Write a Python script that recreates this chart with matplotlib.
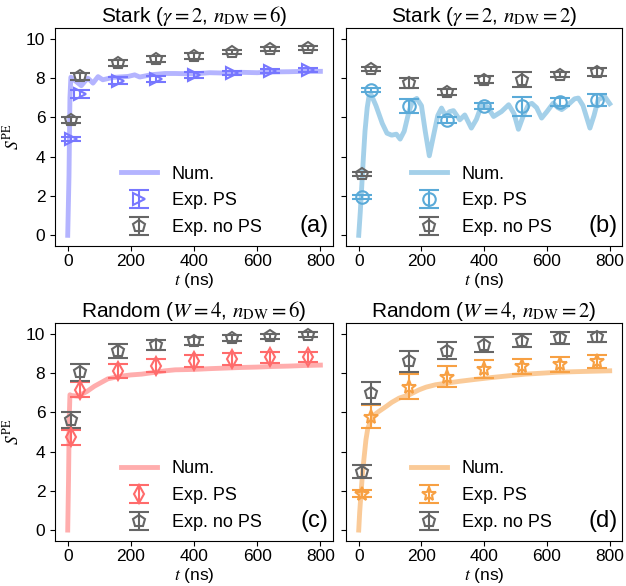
# S^PE growth: Stark vs random disorder, numerics and experiment

import matplotlib
matplotlib.use('Agg')
import matplotlib.pyplot as plt

plt.rcParams['font.family'] = ['Liberation Sans', 'DejaVu Sans']
plt.rcParams['mathtext.fontset'] = 'stix'

t_exp = [10, 40, 160, 280, 400, 520, 640, 760]

# (a) Stark, nDW = 6
t_num_a = [0, 4, 7, 10, 14, 25, 43, 55, 64, 80, 96, 111, 143, 191, 212, 228, 266, 308,
           340, 400, 450, 500, 550, 600, 650, 700, 750, 800]
s_num_a = [0, 3.0, 7.0, 8.05, 8.0, 7.85, 7.62, 7.85, 8.0, 7.75, 8.08, 7.92, 8.04, 8.09,
           8.17, 8.06, 8.18, 8.24, 8.24, 8.22, 8.28, 8.26, 8.30, 8.28, 8.32, 8.33, 8.35, 8.35]
ps_a = [4.9, 7.19, 7.87, 7.98, 8.15, 8.27, 8.38, 8.43]
ps_err_a = [0.1, 0.2, 0.18, 0.15, 0.15, 0.12, 0.1, 0.1]
nops_a = [5.88, 8.1, 8.78, 8.98, 9.15, 9.34, 9.49, 9.54]
nops_err_a = [0.15, 0.18, 0.15, 0.15, 0.15, 0.12, 0.1, 0.1]

# (b) Stark, nDW = 2
t_num_b = [0, 5, 10, 15, 20, 27, 33, 40, 55, 75, 90, 105, 120, 132, 145, 160, 172, 185,
           200, 212, 225, 240, 252, 264, 276, 290, 302, 322, 338, 359, 375, 391, 410,
           430, 455, 478, 495, 509, 525, 541, 552, 567, 583, 600, 620, 635, 647, 660,
           673, 688, 700, 715, 737, 750, 763, 784, 800]
s_num_b = [0, 1.2, 2.6, 4.0, 5.3, 6.5, 7.1, 7.15, 6.6, 5.7, 5.2, 5.1, 5.15, 4.9, 5.3, 6.3,
           6.85, 6.97, 6.6, 5.3, 4.05, 5.2, 6.1, 6.48, 6.1, 6.3, 6.35, 5.88, 6.13, 5.46,
           5.9, 6.6, 6.55, 6.05, 6.3, 6.65, 6.2, 5.4, 6.1, 6.65, 6.72, 6.5, 5.97, 6.3,
           6.73, 6.5, 6.4, 6.55, 6.73, 6.95, 6.99, 6.6, 5.46, 6.1, 6.9, 7.07, 6.7]
ps_b = [1.97, 7.41, 6.6, 5.88, 6.6, 6.56, 6.79, 6.9]
ps_err_b = [0.1, 0.1, 0.36, 0.15, 0.15, 0.46, 0.2, 0.3]
nops_b = [3.13, 8.47, 7.76, 7.28, 7.93, 7.93, 8.18, 8.32]
nops_err_b = [0.1, 0.1, 0.24, 0.15, 0.17, 0.38, 0.12, 0.2]

# (c) Random, nDW = 6
t_num_c = [0, 2.5, 5, 7, 12, 32, 60, 85, 110, 127, 150, 170, 200, 234, 270, 308, 340,
           400, 450, 500, 550, 600, 650, 700, 750, 800]
s_num_c = [0, 2.5, 5.8, 6.89, 6.85, 6.82, 7.05, 7.33, 7.55, 7.7, 7.78, 7.84, 7.9, 7.94,
           8.02, 8.11, 8.16, 8.18, 8.22, 8.25, 8.28, 8.30, 8.33, 8.35, 8.38, 8.40]
ps_c = [4.73, 7.14, 8.08, 8.38, 8.59, 8.71, 8.79, 8.81]
ps_err_c = [0.38, 0.38, 0.36, 0.34, 0.3, 0.3, 0.28, 0.25]
nops_c = [5.61, 8.03, 9.1, 9.44, 9.64, 9.78, 9.86, 9.95]
nops_err_c = [0.4, 0.44, 0.36, 0.25, 0.2, 0.15, 0.12, 0.12]

# (d) Random, nDW = 2
t_num_d = [0, 3, 7, 12, 18, 23, 29, 38, 50, 65, 87, 105, 129, 161, 192, 215, 245, 280,
           319, 370, 425, 480, 531, 585, 636, 700, 750, 800]
s_num_d = [0, 0.9, 1.79, 2.9, 3.83, 4.6, 5.19, 5.55, 5.87, 6.05, 6.29, 6.5, 6.72, 6.89,
           7.14, 7.28, 7.4, 7.48, 7.57, 7.67, 7.77, 7.86, 7.94, 7.99, 8.04, 8.07, 8.09, 8.11]
ps_d = [1.84, 5.78, 7.31, 7.82, 8.2, 8.33, 8.45, 8.59]
ps_err_d = [0.18, 0.6, 0.62, 0.53, 0.44, 0.4, 0.38, 0.34]
nops_d = [2.98, 6.97, 8.59, 9.13, 9.44, 9.64, 9.78, 9.83]
nops_err_d = [0.34, 0.57, 0.52, 0.44, 0.37, 0.34, 0.3, 0.25]

panels = [
    ('Stark ($\\gamma=2$, $n_{\\rm DW}=6$)', '(a)', '#7777ff', '>',
     t_num_a, s_num_a, ps_a, ps_err_a, nops_a, nops_err_a),
    ('Stark ($\\gamma=2$, $n_{\\rm DW}=2$)', '(b)', '#5aaad8', 'o',
     t_num_b, s_num_b, ps_b, ps_err_b, nops_b, nops_err_b),
    ('Random ($W=4$, $n_{\\rm DW}=6$)', '(c)', '#ff6b6b', 'd',
     t_num_c, s_num_c, ps_c, ps_err_c, nops_c, nops_err_c),
    ('Random ($W=4$, $n_{\\rm DW}=2$)', '(d)', '#f7a043', '*',
     t_num_d, s_num_d, ps_d, ps_err_d, nops_d, nops_err_d),
]

gray = '#666666'

fig = plt.figure(figsize=(6.26, 5.86), dpi=100)
rects = [[0.088, 0.580, 0.444, 0.372],
         [0.553, 0.580, 0.441, 0.372],
         [0.088, 0.077, 0.444, 0.372],
         [0.553, 0.077, 0.441, 0.372]]

for i, (title, tag, col, mk, tn, sn, ps, pse, nps, npse) in enumerate(panels):
    ax = fig.add_axes(rects[i])
    ax.plot(tn, sn, color=col, lw=3.5, alpha=0.55, label='Num.')
    ax.errorbar(t_exp, ps, yerr=pse, fmt=mk, color=col, mfc='none', mec=col,
                ms=9 if mk != '*' else 10, mew=1.5, elinewidth=1.5, capsize=7,
                capthick=1.5, label='Exp. PS')
    ax.errorbar(t_exp, nps, yerr=npse, fmt='p', color=gray, mfc='none', mec=gray,
                ms=9, mew=1.5, elinewidth=1.5, capsize=7, capthick=1.5,
                label='Exp. no PS')
    ax.set_xlim(-40, 840)
    ax.set_ylim(-0.55, 10.55)
    ax.set_xticks([0, 200, 400, 600, 800])
    ax.set_yticks([0, 2, 4, 6, 8, 10])
    ax.tick_params(labelsize=12.5)
    ax.tick_params(axis='x', pad=2.5)
    if i % 2 == 1:
        ax.set_yticklabels([])
    else:
        ax.set_ylabel('$S^{\\rm PE}$', fontsize=12.5, labelpad=3)
    ax.set_xlabel('$t$ (ns)', fontsize=12.5, labelpad=1)
    ax.set_title(title, fontsize=15, pad=4)
    ax.legend(loc='lower center', bbox_to_anchor=(0.49, -0.03), frameon=False,
              fontsize=13, handlelength=2.0, labelspacing=0.55)
    ax.text(0.985, 0.04, tag, transform=ax.transAxes, ha='right', va='bottom',
            fontsize=17)

savefile = 'out.png'
print('Saving figure to: ', savefile)
plt.savefig(savefile, dpi=100)
